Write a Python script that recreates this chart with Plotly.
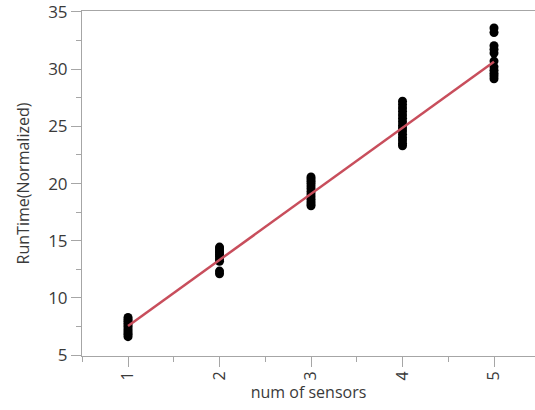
import plotly.graph_objects as go

# data
sensors_1 = [6.62, 6.8, 6.95, 7.12, 7.3, 7.48, 7.63, 7.8, 7.97, 8.12, 8.3]
sensors_2 = [12.12, 12.35, 13.2, 13.4, 13.6, 13.78, 13.95, 14.1, 14.28, 14.45]
sensors_3 = [18.05, 18.22, 18.4, 18.62, 18.85, 19.08, 19.3, 19.55, 19.78, 20.0, 20.2, 20.4, 20.57]
sensors_4 = [23.3, 23.52, 23.8, 24.02, 24.3, 24.6, 24.85, 25.1, 25.4, 25.7, 26.0, 26.3, 26.6, 26.9, 27.2]
sensors_5 = [29.15, 29.4, 29.62, 29.9, 30.2, 30.7, 31.4, 31.72, 32.05, 33.2, 33.6]
groups = [1, 2, 3, 4, 5]
fit_x = [1, 5]
fit_y = [7.55, 30.65]
tick_vals = [1, 2, 3, 4, 5]
y_ticks = [5, 10, 15, 20, 25, 30, 35]

xs, ys = [], []
for g, vals in zip(groups, [sensors_1, sensors_2, sensors_3, sensors_4, sensors_5]):
    xs += [g] * len(vals)
    ys += vals

fig = go.Figure()
fig.add_trace(go.Scatter(x=xs, y=ys, mode="markers",
                         marker=dict(color="black", size=9, line=dict(width=0)),
                         showlegend=False))
fig.add_trace(go.Scatter(x=fit_x, y=fit_y, mode="lines",
                         line=dict(color="rgb(200,78,92)", width=2.5),
                         showlegend=False))

axis_color = "#a6a6a6"
font_family = "Open Sans, sans-serif"
fig.update_layout(
    width=535, height=410,
    margin=dict(l=82, r=0, t=11, b=54),
    plot_bgcolor="white", paper_bgcolor="white",
    font=dict(family=font_family, color="#3a3a3a", size=16),
    xaxis=dict(
        range=[0.497, 5.448], tickvals=tick_vals, ticktext=[str(v) for v in tick_vals],
        tickangle=-90, ticks="outside", ticklen=10, tickcolor=axis_color, tickwidth=1,
        ticklabelstandoff=-2,
        showline=True, linecolor=axis_color, linewidth=1, mirror=True,
        showgrid=False, zeroline=False,
        minor=dict(ticks="outside", ticklen=5, tickcolor=axis_color, dtick=0.5, tick0=0.5, showgrid=False),
        title=dict(text="num of sensors", font=dict(size=16), standoff=6),
        tickfont=dict(size=16),
    ),
    yaxis=dict(
        range=[4.93, 35.08], tickvals=y_ticks,
        ticks="outside", ticklen=10, tickcolor=axis_color, tickwidth=1,
        ticklabeloverflow="allow",
        showline=True, linecolor=axis_color, linewidth=1,
        showgrid=False, zeroline=False,
        minor=dict(ticks="outside", ticklen=5, tickcolor=axis_color, dtick=2.5, tick0=0, showgrid=False),
        title=dict(text="RunTime(Normalized)", font=dict(size=16), standoff=14),
        tickfont=dict(size=17),
    ),
)

fig.write_html("out.html")
